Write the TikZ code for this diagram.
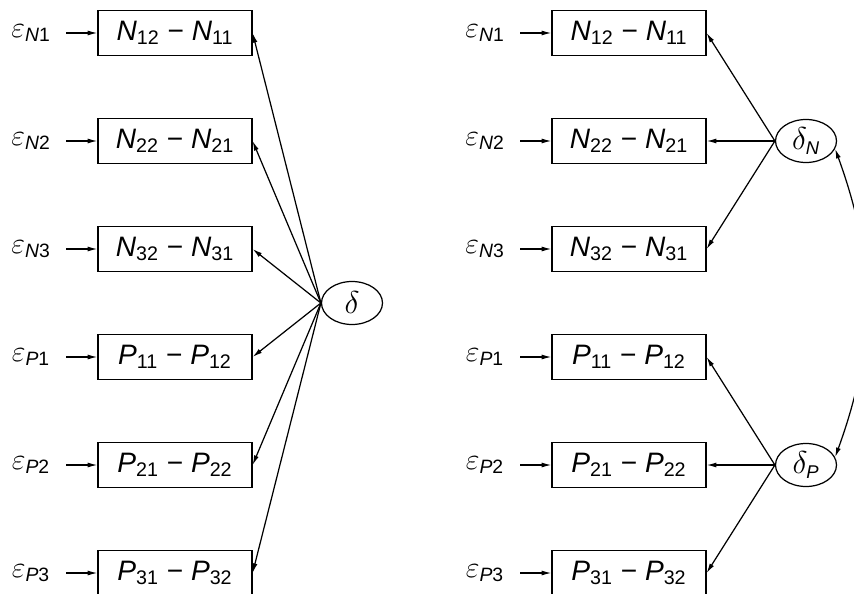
\documentclass[tikz,border=0pt]{standalone}
\usepackage{fix-cm}
\usepackage{amsmath}
\usepackage{fontspec}
\setmainfont{Liberation Sans}
\usetikzlibrary{arrows.meta,shapes.geometric}

\newcommand{\sublab}[2]{\mbox{\fontsize{#1}{#1}\selectfont#2}}

\begin{document}
\begin{tikzpicture}[
  x=0.02cm, y=-0.02cm,
  box/.style={draw, line width=0.7pt, minimum width=3.08cm, minimum height=0.9cm, inner sep=0pt, font=\fontsize{16}{18}\selectfont},
  latent/.style={draw, ellipse, line width=0.7pt, minimum width=1.22cm, minimum height=0.86cm, inner sep=0pt, font=\fontsize{18}{20}\selectfont},
  err/.style={inner sep=0pt, minimum width=1.4cm, font=\fontsize{17}{19}\selectfont},
  arrow/.style={-{Latex[length=5.5pt,width=2.8pt]}, line width=0.7pt}
]
\useasboundingbox (0,0) rectangle (854,594);

% Single factor model (left).
\node[err] (leN1) at (31,33) {$\varepsilon_{\sublab{11}{\textit{N}1}}$};
\node[err] (leN2) at (31,141) {$\varepsilon_{\sublab{11}{\textit{N}2}}$};
\node[err] (leN3) at (31,249) {$\varepsilon_{\sublab{11}{\textit{N}3}}$};
\node[err] (leP1) at (31,357) {$\varepsilon_{\sublab{11}{\textit{P}1}}$};
\node[err] (leP2) at (31,465) {$\varepsilon_{\sublab{11}{\textit{P}2}}$};
\node[err] (leP3) at (31,573) {$\varepsilon_{\sublab{11}{\textit{P}3}}$};

\node[box] (ln1) at (175,33) {\textit{N}\textsubscript{12} − \textit{N}\textsubscript{11}};
\node[box] (ln2) at (175,141) {\textit{N}\textsubscript{22} − \textit{N}\textsubscript{21}};
\node[box] (ln3) at (175,249) {\textit{N}\textsubscript{32} − \textit{N}\textsubscript{31}};
\node[box] (lp1) at (175,357) {\textit{P}\textsubscript{11} − \textit{P}\textsubscript{12}};
\node[box] (lp2) at (175,465) {\textit{P}\textsubscript{21} − \textit{P}\textsubscript{22}};
\node[box] (lp3) at (175,573) {\textit{P}\textsubscript{31} − \textit{P}\textsubscript{32}};

\node[latent] (delta) at (352,303) {$\delta$};

\draw[arrow] (leN1) -- (ln1);
\draw[arrow] (leN2) -- (ln2);
\draw[arrow] (leN3) -- (ln3);
\draw[arrow] (leP1) -- (lp1);
\draw[arrow] (leP2) -- (lp2);
\draw[arrow] (leP3) -- (lp3);

\draw[arrow] (delta.west) -- (ln1.east);
\draw[arrow] (delta.west) -- (ln2.east);
\draw[arrow] (delta.west) -- (ln3.east);
\draw[arrow] (delta.west) -- (lp1.east);
\draw[arrow] (delta.west) -- (lp2.east);
\draw[arrow] (delta.west) -- (lp3.east);

% Two correlated factors (right).
\node[err] (reN1) at (485,33) {$\varepsilon_{\sublab{11}{\textit{N}1}}$};
\node[err] (reN2) at (485,141) {$\varepsilon_{\sublab{11}{\textit{N}2}}$};
\node[err] (reN3) at (485,249) {$\varepsilon_{\sublab{11}{\textit{N}3}}$};
\node[err] (reP1) at (485,357) {$\varepsilon_{\sublab{11}{\textit{P}1}}$};
\node[err] (reP2) at (485,465) {$\varepsilon_{\sublab{11}{\textit{P}2}}$};
\node[err] (reP3) at (485,573) {$\varepsilon_{\sublab{11}{\textit{P}3}}$};

\node[box] (rn1) at (629,33) {\textit{N}\textsubscript{12} − \textit{N}\textsubscript{11}};
\node[box] (rn2) at (629,141) {\textit{N}\textsubscript{22} − \textit{N}\textsubscript{21}};
\node[box] (rn3) at (629,249) {\textit{N}\textsubscript{32} − \textit{N}\textsubscript{31}};
\node[box] (rp1) at (629,357) {\textit{P}\textsubscript{11} − \textit{P}\textsubscript{12}};
\node[box] (rp2) at (629,465) {\textit{P}\textsubscript{21} − \textit{P}\textsubscript{22}};
\node[box] (rp3) at (629,573) {\textit{P}\textsubscript{31} − \textit{P}\textsubscript{32}};

\node[latent] (deltaN) at (806,141) {$\delta_{\sublab{10.5}{\textit{N}}}$};
\node[latent] (deltaP) at (806,465) {$\delta_{\sublab{10.5}{\textit{P}}}$};

\draw[arrow] (reN1) -- (rn1);
\draw[arrow] (reN2) -- (rn2);
\draw[arrow] (reN3) -- (rn3);
\draw[arrow] (reP1) -- (rp1);
\draw[arrow] (reP2) -- (rp2);
\draw[arrow] (reP3) -- (rp3);

\draw[arrow] (deltaN.west) -- (rn1.east);
\draw[arrow] (deltaN.west) -- (rn2.east);
\draw[arrow] (deltaN.west) -- (rn3.east);
\draw[arrow] (deltaP.west) -- (rp1.east);
\draw[arrow] (deltaP.west) -- (rp2.east);
\draw[arrow] (deltaP.west) -- (rp3.east);

\draw[{Latex[length=5.5pt,width=2.8pt]}-{Latex[length=5.5pt,width=2.8pt]}, line width=0.7pt]
  (deltaN.-15) to[bend left=20] (deltaP.15);
\end{tikzpicture}
\end{document}
